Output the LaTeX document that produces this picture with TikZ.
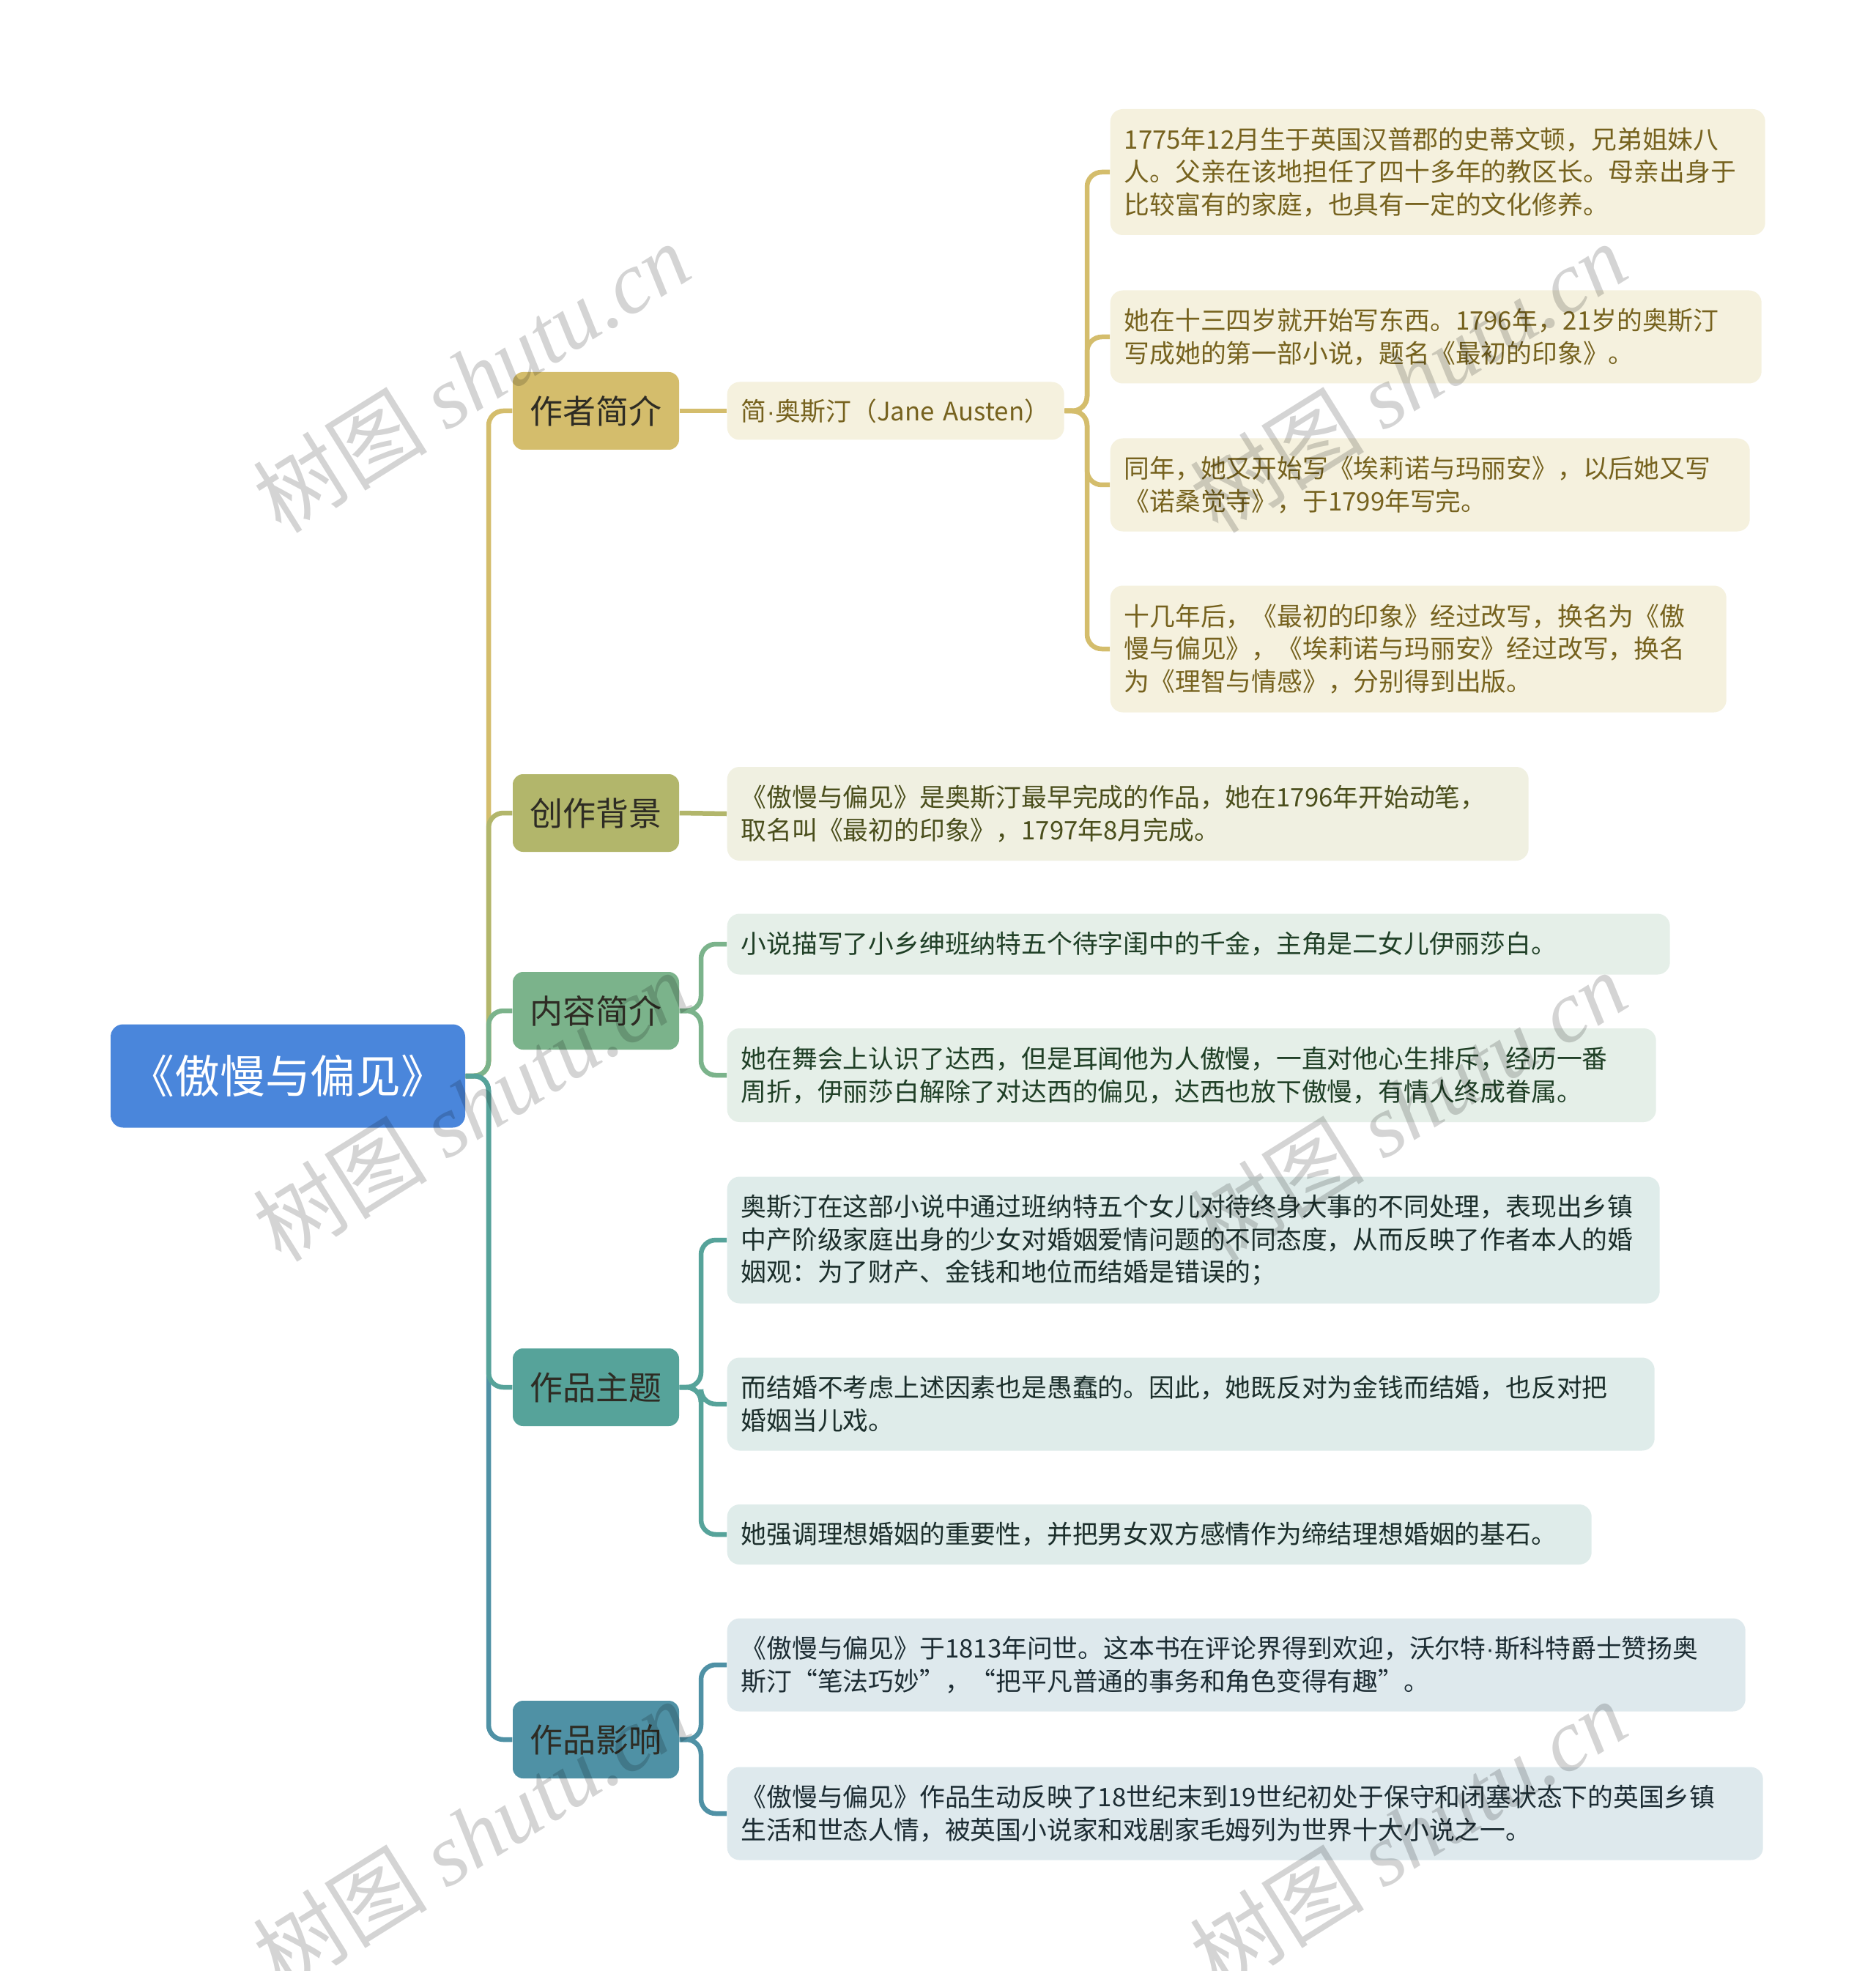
\documentclass[tikz,border=0pt]{standalone}
\usepackage{fontspec}
\setmainfont{Noto Sans CJK SC}
\newfontfamily\wmfont{Liberation Serif}
\newfontfamily\latfont{Liberation Sans}
\newcommand{\mdot}{{\latfont ·}}
\definecolor{cRoot}{HTML}{4A86DB}
\definecolor{cA}{HTML}{D4BD6C}
\definecolor{cB}{HTML}{B2B66B}
\definecolor{cC}{HTML}{7BB38B}
\definecolor{cD}{HTML}{56A39A}
\definecolor{cE}{HTML}{4F91A5}
\definecolor{fA}{HTML}{F5F1DE}
\definecolor{fB}{HTML}{F0F0E1}
\definecolor{fC}{HTML}{E5EFE8}
\definecolor{fD}{HTML}{DFECEA}
\definecolor{fE}{HTML}{DEE9ED}
\definecolor{tA}{HTML}{76621E}
\definecolor{tB}{HTML}{4A4E1C}
\definecolor{tC}{HTML}{1F3F26}
\definecolor{tD}{HTML}{1B2E2B}
\definecolor{tE}{HTML}{1C2C33}
\definecolor{tTop}{HTML}{2E2C24}
\begin{document}
\begin{tikzpicture}[x=1cm,y=-1cm,
  every node/.style={inner sep=0pt},
  rootbox/.style={rectangle, rounded corners=0.17cm, fill=cRoot, text=white,
    minimum width=4.84cm, minimum height=1.41cm, font=\fontsize{17.6pt}{20pt}\selectfont},
  topicbox/.style={rectangle, rounded corners=0.14cm, minimum width=2.27cm,
    minimum height=1.06cm, text=tTop, font=\fontsize{12.8pt}{15pt}\selectfont},
  leafbox/.style={rectangle, rounded corners=0.17cm, anchor=west, align=left,
    inner xsep=0.19cm, font=\fontsize{9.9pt}{12.7pt}\selectfont},
  conn/.style={line width=0.065cm, rounded corners=0.2cm},
  wm/.style={rotate=32, text=black, text opacity=0.17, font=\fontsize{34pt}{38pt}\selectfont},
]
\fill[white] (0,0) rectangle (25.6,26.91);
\useasboundingbox (0,0) rectangle (25.6,26.91);

% root and topics
\node[rootbox] (root) at (3.93,14.69) {《傲慢与偏见》};
\node[topicbox, fill=cA] (t1) at (8.135,5.61) {作者简介};
\node[topicbox, fill=cB] (t2) at (8.135,11.10) {创作背景};
\node[topicbox, fill=cC] (t3) at (8.135,13.80) {内容简介};
\node[topicbox, fill=cD] (t4) at (8.135,18.94) {作品主题};
\node[topicbox, fill=cE] (t5) at (8.135,23.75) {作品影响};

% author
\node[leafbox, fill=fA, text=tA, text width=4.22cm, minimum height=0.79cm] (au) at (9.92,5.61) {\mbox{简\mdot 奥斯汀（Jane Austen）}};
\node[leafbox, fill=fA, text=tA, text width=8.56cm, minimum height=1.72cm] (a1) at (15.15,2.35)
  {1775年12月生于英国汉普郡的史蒂文顿，兄弟姐妹八\\人。父亲在该地担任了四十多年的教区长。母亲出身于\\比较富有的家庭，也具有一定的文化修养。};
\node[leafbox, fill=fA, text=tA, text width=8.51cm, minimum height=1.27cm] (a2) at (15.15,4.60)
  {她在十三四岁就开始写东西。1796年，21岁的奥斯汀\\写成她的第一部小说，题名《最初的印象》。};
\node[leafbox, fill=fA, text=tA, text width=8.35cm, minimum height=1.27cm] (a3) at (15.15,6.62)
  {同年，她又开始写《埃莉诺与玛丽安》，以后她又写\\《诺桑觉寺》，于1799年写完。};
\node[leafbox, fill=fA, text=tA, text width=8.03cm, minimum height=1.73cm] (a4) at (15.15,8.86)
  {十几年后，《最初的印象》经过改写，换名为《傲\\慢与偏见》，《埃莉诺与玛丽安》经过改写，换名\\为《理智与情感》，分别得到出版。};

% background
\node[leafbox, fill=fB, text=tB, text width=10.56cm, minimum height=1.28cm] (b1) at (9.92,11.11)
  {《傲慢与偏见》是奥斯汀最早完成的作品，她在1796年开始动笔，\\取名叫《最初的印象》，1797年8月完成。};

% content
\node[leafbox, fill=fC, text=tC, text width=12.49cm, minimum height=0.83cm] (c1) at (9.92,12.89)
  {小说描写了小乡绅班纳特五个待字闺中的千金，主角是二女儿伊丽莎白。};
\node[leafbox, fill=fC, text=tC, text width=12.30cm, minimum height=1.28cm] (c2) at (9.92,14.68)
  {她在舞会上认识了达西，但是耳闻他为人傲慢，一直对他心生排斥，经历一番\\周折，伊丽莎白解除了对达西的偏见，达西也放下傲慢，有情人终成眷属。};

% theme
\node[leafbox, fill=fD, text=tD, text width=12.35cm, minimum height=1.73cm] (d1) at (9.92,16.93)
  {奥斯汀在这部小说中通过班纳特五个女儿对待终身大事的不同处理，表现出乡镇\\中产阶级家庭出身的少女对婚姻爱情问题的不同态度，从而反映了作者本人的婚\\姻观：为了财产、金钱和地位而结婚是错误的；};
\node[leafbox, fill=fD, text=tD, text width=12.28cm, minimum height=1.27cm] (d2) at (9.92,19.17)
  {而结婚不考虑上述因素也是愚蠢的。因此，她既反对为金钱而结婚，也反对把\\婚姻当儿戏。};
\node[leafbox, fill=fD, text=tD, text width=11.42cm, minimum height=0.82cm] (d3) at (9.92,20.95)
  {她强调理想婚姻的重要性，并把男女双方感情作为缔结理想婚姻的基石。};

% influence
\node[leafbox, fill=fE, text=tE, text width=13.52cm, minimum height=1.27cm] (e1) at (9.92,22.73)
  {《傲慢与偏见》于1813年问世。这本书在评论界得到欢迎，沃尔特\mdot 斯科特爵士赞扬奥\\斯汀“笔法巧妙”，“把平凡普通的事务和角色变得有趣”。};
\node[leafbox, fill=fE, text=tE, text width=13.76cm, minimum height=1.27cm] (e2) at (9.92,24.76)
  {《傲慢与偏见》作品生动反映了18世纪末到19世纪初处于保守和闭塞状态下的英国乡镇\\生活和世态人情，被英国小说家和戏剧家毛姆列为世界十大小说之一。};

% junctions
\coordinate (j0) at (6.67,14.69);
\coordinate (ja) at (14.84,5.61);
\coordinate (jc) at (9.57,13.80);
\coordinate (jd) at (9.57,18.94);
\coordinate (je) at (9.57,23.75);

% root connectors
\draw[conn, cA] (root.east) -- (j0) |- (t1.west);
\draw[conn, cB] (root.east) -- (j0) |- (t2.west);
\draw[conn, cC] (root.east) -- (j0) |- (t3.west);
\draw[conn, cE] (root.east) -- (j0) |- (t5.west);
\draw[conn, cD] (root.east) -- (j0) |- (t4.west);

% author connectors
\draw[conn, cA] (t1.east) -- (au.west);
\foreach \n in {a1,a2,a3,a4} \draw[conn, cA] (au.east) -- (ja) |- (\n.west);
% background
\draw[conn, cB] (t2.east) -- (b1.west);
% content
\foreach \n in {c1,c2} \draw[conn, cC] (t3.east) -- (jc) |- (\n.west);
% theme
\foreach \n in {d1,d2,d3} \draw[conn, cD] (t4.east) -- (jd) |- (\n.west);
% influence
\foreach \n in {e1,e2} \draw[conn, cE] (t5.east) -- (je) |- (\n.west);

% watermarks
\node[wm] (w1) at (6.43,5.15) {树图 {\wmfont\itshape shutu.cn}};
\node[wm] (w2) at (19.22,5.15) {树图 {\wmfont\itshape shutu.cn}};
\node[wm] (w3) at (6.43,15.10) {树图 {\wmfont\itshape shutu.cn}};
\node[wm] (w4) at (19.22,15.10) {树图 {\wmfont\itshape shutu.cn}};
\node[wm] (w5) at (6.43,25.05) {树图 {\wmfont\itshape shutu.cn}};
\node[wm] (w6) at (19.22,25.05) {树图 {\wmfont\itshape shutu.cn}};
\end{tikzpicture}
\end{document}
